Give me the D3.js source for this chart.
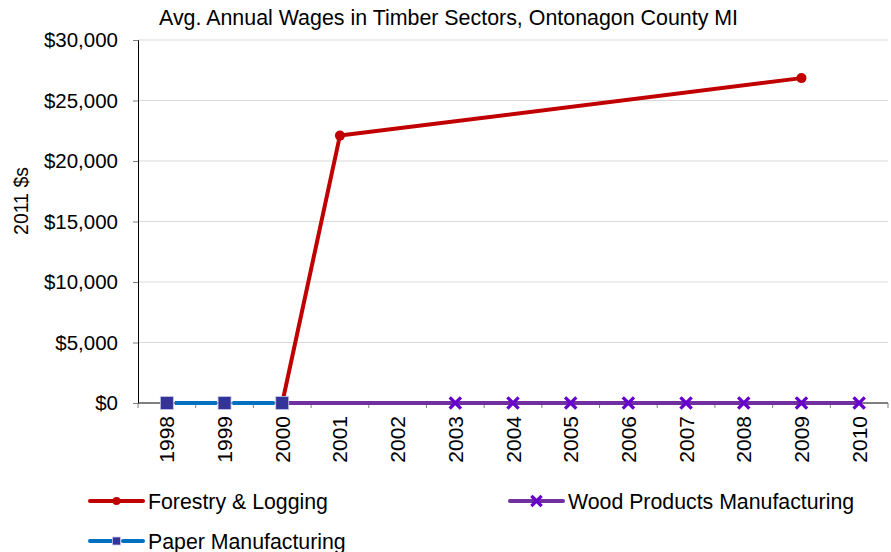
<!DOCTYPE html>
<html>
<head>
<meta charset="utf-8">
<script src="https://cdn.jsdelivr.net/npm/d3@7/dist/d3.min.js"></script>
<style>
  body { margin: 0; background: #fff; }
  svg { display: block; font-family: "Liberation Sans", Arial, sans-serif; }
</style>
</head>
<body>
<svg id="chart" width="891" height="552"></svg>
<script>
// Years on the category axis
const years = ["1998","1999","2000","2001","2002","2003","2004","2005","2006","2007","2008","2009","2010"];

// Average annual wages (2011 dollars); null = not disclosed
const forestryLogging = [null, null, 0, 22100, null, null, null, null, null, null, null, 26850, null];
const woodProducts    = [null, null, 0, null, null, 0, 0, 0, 0, 0, 0, 0, 0];
const paperMfg        = [0, 0, 0, null, null, null, null, null, null, null, null, null, null];

const yTicks = [0, 5000, 10000, 15000, 20000, 25000, 30000];

const svg = d3.select("#chart");
const margin = { left: 138, right: 3, top: 40, bottom: 149 };
const W = 891, H = 552;

const x = d3.scaleBand().domain(years).range([margin.left, W - margin.right]);
const y = d3.scaleLinear().domain([0, 30000]).range([H - margin.bottom, margin.top]);
const step = x.bandwidth();

// Title
svg.append("text")
  .attr("x", 159).attr("y", 25)
  .attr("font-size", 21.4)
  .attr("fill", "#000")
  .text("Avg. Annual Wages in Timber Sectors, Ontonagon County MI");

// Horizontal gridlines
svg.append("g")
  .selectAll("line")
  .data(yTicks.filter(d => d > 0))
  .join("line")
  .attr("x1", margin.left).attr("x2", W - margin.right)
  .attr("y1", d => y(d)).attr("y2", d => y(d))
  .attr("stroke", "#d9d9d9").attr("stroke-width", 1);

// Y axis
const yAxis = svg.append("g")
  .attr("transform", `translate(${margin.left},0)`)
  .call(d3.axisLeft(y).tickValues(yTicks).tickSize(5).tickPadding(15)
    .tickFormat(d => "$" + d3.format(",")(d)));
yAxis.select(".domain").attr("stroke", "#000");
yAxis.selectAll(".tick line").attr("stroke", "#808080");
yAxis.selectAll(".tick text")
  .attr("font-size", 20.5).attr("fill", "#000")
  .attr("font-family", "Liberation Sans, Arial, sans-serif");

// Y axis title
svg.append("text")
  .attr("transform", `translate(28, 201) rotate(-90)`)
  .attr("text-anchor", "middle")
  .attr("font-size", 19.5)
  .text("2011 $s");

// X axis with ticks at band boundaries
const xg = svg.append("g").attr("transform", `translate(0,${y(0)})`);
xg.append("line")
  .attr("x1", margin.left).attr("x2", W - margin.right)
  .attr("y1", 0).attr("y2", 0)
  .attr("stroke", "#000");
const bounds = years.map(d => x(d)).concat([x(years[years.length - 1]) + step]);
xg.selectAll("line.tk").data(bounds).join("line")
  .attr("class", "tk")
  .attr("x1", d => d).attr("x2", d => d)
  .attr("y1", 0).attr("y2", 5)
  .attr("stroke", "#808080");
xg.selectAll("text").data(years).join("text")
  .attr("transform", d => `translate(${x(d) + step / 2 + 7.5},13) rotate(-90)`)
  .attr("text-anchor", "end")
  .attr("font-size", 21)
  .text(d => d);

// Series definitions
const series = [
  { name: "Forestry & Logging", values: forestryLogging, color: "#c00000", marker: "circle", markerColor: "#c00000", dashed: false },
  { name: "Wood Products Manufacturing", values: woodProducts, color: "#7030a0", marker: "cross", markerColor: "#6600cc", dashed: false },
  { name: "Paper Manufacturing", values: paperMfg, color: "#0070c0", marker: "square", markerColor: "#333399", dashed: true }
];

const line = d3.line().x(d => x(d.year) + step / 2).y(d => y(d.value));

function drawMarker(g, type, color, cx, cy, size) {
  if (type === "circle") {
    g.append("circle").attr("cx", cx).attr("cy", cy).attr("r", size / 2).attr("fill", color);
  } else if (type === "square") {
    g.append("rect").attr("x", cx - size / 2).attr("y", cy - size / 2).attr("width", size).attr("height", size)
      .attr("fill", color).attr("stroke", "#c8c8ea").attr("stroke-width", 0.8);
  } else if (type === "cross") {
    const h = size / 2;
    g.append("path")
      .attr("d", `M${cx - h},${cy - h}L${cx + h},${cy + h}M${cx - h},${cy + h}L${cx + h},${cy - h}`)
      .attr("stroke", color).attr("stroke-width", 3.2).attr("stroke-linecap", "square");
  }
}

const markerSize = { circle: 10, square: 13, cross: 9 };
const legendMarkerSize = { circle: 8, square: 8, cross: 8 };

const plot = svg.append("g");
series.forEach(s => {
  const pts = years.map((yr, i) => ({ year: yr, value: s.values[i] })).filter(d => d.value !== null);
  const p = plot.append("path")
    .datum(pts)
    .attr("d", line)
    .attr("fill", "none")
    .attr("stroke", s.color)
    .attr("stroke-width", 4)
    .attr("stroke-linejoin", "round");
  if (s.dashed) {
    // one long dash between neighbouring markers, with a short gap either side
    p.attr("stroke-dasharray", `${step - 15.7},15.7`).attr("stroke-dashoffset", step - 8);
  }
  const mg = plot.append("g");
  pts.forEach(d => {
    // the 2000 joining point has no visible marker for the lower series
    if ((s.marker === "circle" || s.marker === "cross") && d.year === "2000") return;
    drawMarker(mg, s.marker, s.markerColor, x(d.year) + step / 2, y(d.value), markerSize[s.marker]);
  });
});

// Legend
const legendItems = [
  { s: series[0], lx: 90, ly: 501 },
  { s: series[1], lx: 510, ly: 501 },
  { s: series[2], lx: 90, ly: 541 }
];
legendItems.forEach(({ s, lx, ly }) => {
  const g = svg.append("g");
  const sw = 53;
  if (s.dashed) {
    g.append("line").attr("x1", lx).attr("x2", lx + 22).attr("y1", ly).attr("y2", ly)
      .attr("stroke", s.color).attr("stroke-width", 4).attr("stroke-linecap", "round");
    g.append("line").attr("x1", lx + 33).attr("x2", lx + sw).attr("y1", ly).attr("y2", ly)
      .attr("stroke", s.color).attr("stroke-width", 4).attr("stroke-linecap", "round");
  } else {
    g.append("line")
      .attr("x1", lx).attr("x2", lx + sw).attr("y1", ly).attr("y2", ly)
      .attr("stroke", s.color).attr("stroke-width", 4).attr("stroke-linecap", "round");
  }
  drawMarker(g, s.marker, s.markerColor, lx + sw / 2, ly, legendMarkerSize[s.marker]);
  g.append("text")
    .attr("x", lx + 58).attr("y", ly + 7.5)
    .attr("font-size", 21.3)
    .text(s.name);
});
</script>
</body>
</html>
